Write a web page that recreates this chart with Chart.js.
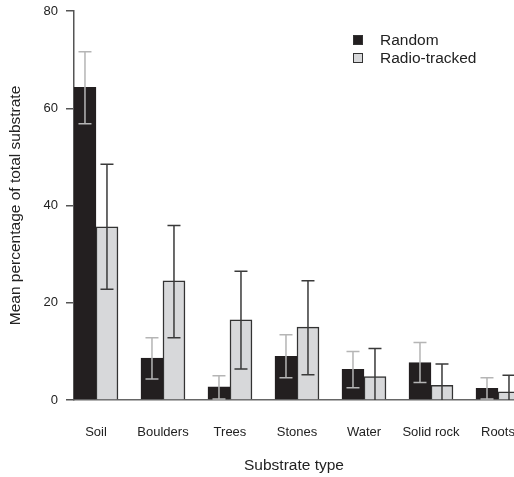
<!DOCTYPE html>
<html>
<head>
<meta charset="utf-8">
<script src="https://cdn.jsdelivr.net/npm/chart.js@4"></script>
<style>
  html, body { margin: 0; padding: 0; background: #fff; overflow: hidden; }
  #wrap { position: relative; width: 514px; height: 477px; }
  #legend { position: absolute; left: 353px; top: 31px; font: 15.5px "Liberation Sans", Arial, sans-serif; color: #222; }
  #legend div { height: 18px; line-height: 18px; display: flex; align-items: center; }
  #legend span.box { width: 8px; height: 8px; border: 1px solid #333; margin-right: 17px; }
</style>
</head>
<body>
<div id="wrap">
  <canvas id="chartSubstrate" width="514" height="477"></canvas>
  <div id="legend"></div>
</div>
<script>
const categories = ['Soil', 'Boulders', 'Trees', 'Stones', 'Water', 'Solid rock', 'Roots'];
const randomMean = [64.3, 8.6, 2.7, 9.0, 6.3, 7.7, 2.4];
const randomLow = [56.8, 4.3, 0.2, 4.6, 2.5, 3.6, 0.2];
const randomHigh = [71.6, 12.8, 5.0, 13.4, 10.0, 11.8, 4.6];
const trackedMean = [35.6, 24.5, 16.5, 15.0, 4.8, 3.0, 1.7];
const trackedLow = [22.8, 12.8, 6.4, 5.2, -1.0, -1.5, -1.7];
const trackedHigh = [48.5, 35.9, 26.5, 24.5, 10.6, 7.4, 5.1];
const yTicks = [0, 20, 40, 60, 80];

Chart.defaults.font.family = '"Liberation Sans", Arial, sans-serif';
Chart.defaults.color = '#222';

// draws the whiskers from the low/high arrays, through the y scale
const errorBars = {
    id: 'errorBars',
    afterDatasetsDraw(chart) {
        const { ctx, chartArea, scales: { y } } = chart;
        ctx.save();
        ctx.beginPath();
        ctx.rect(chartArea.left, chartArea.top - 2, chartArea.right - chartArea.left, chartArea.bottom - chartArea.top + 2);
        ctx.clip();
        chart.data.datasets.forEach((ds, di) => {
            const meta = chart.getDatasetMeta(di);
            ctx.strokeStyle = ds.errorColor;
            ctx.lineWidth = 1.5;
            meta.data.forEach((bar, i) => {
                const x = bar.x;
                const top = y.getPixelForValue(ds.errHigh[i]);
                const bot = y.getPixelForValue(ds.errLow[i]);
                ctx.beginPath();
                ctx.moveTo(x, top); ctx.lineTo(x, bot);
                ctx.moveTo(x - 6.5, top); ctx.lineTo(x + 6.5, top);
                ctx.moveTo(x - 6.5, bot); ctx.lineTo(x + 6.5, bot);
                ctx.stroke();
            });
        });
        ctx.restore();
    }
};

const chartRef = document.querySelector('#chartSubstrate');
const chart = new Chart(chartRef, {
    type: 'bar',
    data: {
        datasets: [{
            label: 'Random',
            data: randomMean.map((v, i) => ({ x: i, y: v })),
            backgroundColor: '#231f20',
            borderColor: '#231f20',
            borderWidth: 1,
            errLow: randomLow,
            errHigh: randomHigh,
            errorColor: '#b5b5b5'
        }, {
            label: 'Radio-tracked',
            data: trackedMean.map((v, i) => ({ x: i, y: v })),
            backgroundColor: '#d7d8da',
            borderColor: '#333',
            borderWidth: 1.5,
            errLow: trackedLow,
            errHigh: trackedHigh,
            errorColor: '#3a3a3a'
        }]
    },
    options: {
        responsive: false,
        animation: false,
        barThickness: 22,
        layout: { padding: { top: 11, right: 0, bottom: 0, left: 0 } },
        plugins: {
            legend: { display: false },
            tooltip: { enabled: false }
        },
        scales: {
            x: {
                type: 'linear',
                offset: false,
                min: -0.328,
                max: 6.239,
                afterBuildTicks: s => { s.ticks = categories.map((c, i) => ({ value: i })); },
                afterFit: s => { s.height = 77; s.paddingLeft = 0; s.paddingRight = 0; },
                ticks: { callback: v => categories[v], padding: 17, font: { size: 13 }, autoSkip: false, maxRotation: 0 },
                grid: { display: false },
                border: { color: '#666', width: 1.5 },
                title: { display: true, text: 'Substrate type', font: { size: 15.5 }, padding: { top: 0, bottom: 2 } }
            },
            y: {
                min: 0,
                max: 80,
                afterBuildTicks: s => { s.ticks = yTicks.map(v => ({ value: v })); },
                afterFit: s => { s.width = 74; s.paddingTop = 0; s.paddingBottom = 0; },
                ticks: { padding: 8, font: { size: 13 } },
                grid: { drawOnChartArea: false, drawTicks: true, tickLength: 8, color: '#555', lineWidth: 1.5 },
                border: { color: '#555', width: 1.5 },
                title: { display: true, text: 'Mean percentage of total substrate', font: { size: 15.5 }, padding: { top: 6, bottom: 0 } }
            }
        }
    },
    plugins: [errorBars]
});

// legend built from the datasets
const legendEl = document.querySelector('#legend');
chart.data.datasets.forEach(ds => {
    const row = document.createElement('div');
    const box = document.createElement('span');
    box.className = 'box';
    box.style.background = ds.backgroundColor;
    row.appendChild(box);
    row.appendChild(document.createTextNode(ds.label));
    legendEl.appendChild(row);
});
</script>
</body>
</html>
